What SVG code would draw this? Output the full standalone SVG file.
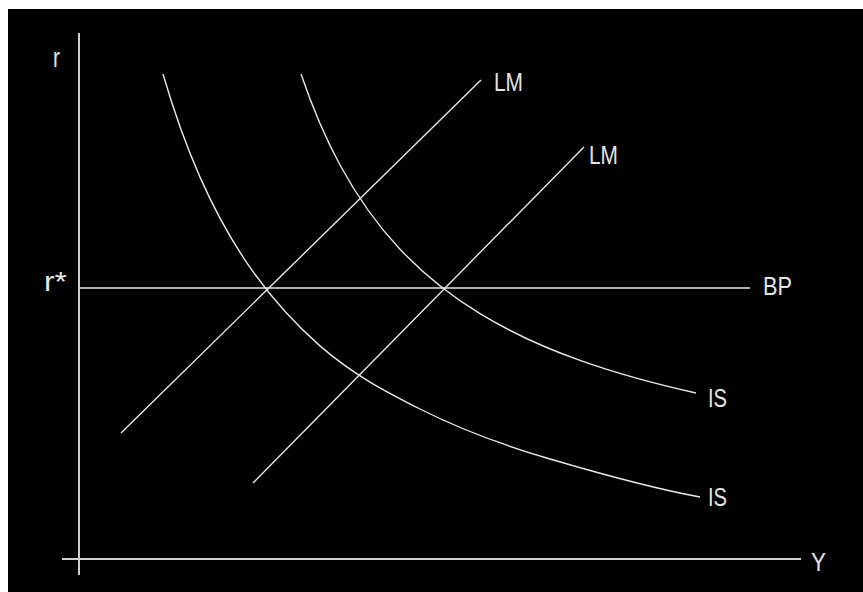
<svg xmlns="http://www.w3.org/2000/svg" width="863" height="592" viewBox="0 0 863 592">
<style>
.ax{stroke:#cfcfcf;stroke-width:2;fill:none}
.ln{stroke:#e8e8e8;stroke-width:1.4;fill:none}
.lb{font-family:"Liberation Sans",Arial,sans-serif;font-size:25px;fill:#e4e4e4}
</style>
<rect x="0" y="0" width="863" height="592" fill="#ffffff"/>
<rect x="8" y="9" width="855" height="583" fill="#000000"/>
<g id="axes">
<line class="ax" x1="79" y1="33" x2="79" y2="575"/>
<line class="ax" x1="62" y1="559" x2="801" y2="559"/>
<text class="lb" x="53" y="67" textLength="7" lengthAdjust="spacingAndGlyphs" style="font-size:28px">r</text>
<text class="lb" x="811" y="571" textLength="15" lengthAdjust="spacingAndGlyphs">Y</text>
<text class="lb" x="44" y="291" textLength="23" lengthAdjust="spacingAndGlyphs" style="font-size:28px">r*</text>
</g>
<g id="connectors">
<line class="ln" x1="80" y1="288" x2="750" y2="288"/>
<line class="ln" x1="121" y1="433" x2="481" y2="80"/>
<line class="ln" x1="253" y1="483" x2="584" y2="147"/>
<path class="ln" d="M163,74 C175.3,116.3 187.7,149.2 200,177.1 C216.7,214.8 233.3,243.4 250,267.4 C273.3,301 296.7,325.5 320,345.9 C353.3,375 386.7,392.2 420,409 C463.3,430.9 506.7,446.3 550,459 C600,473.7 650,487.9 700,497"/>
<path class="ln" d="M301,74 C314,112.2 327,140.9 340,165 C360,202 380,227.9 400,249.2 C426.7,277.6 453.3,297.4 480,313.6 C513.3,333.9 546.7,348.5 580,360.4 C618.7,374.2 657.3,384.4 696,393"/>
</g>
<g id="BP"><text class="lb" x="763" y="295" textLength="29" lengthAdjust="spacingAndGlyphs">BP</text></g>
<g id="LM1"><text class="lb" x="494" y="91" textLength="29" lengthAdjust="spacingAndGlyphs">LM</text></g>
<g id="LM2"><text class="lb" x="589" y="164" textLength="29" lengthAdjust="spacingAndGlyphs">LM</text></g>
<g id="IS2"><text class="lb" x="708" y="407" textLength="19" lengthAdjust="spacingAndGlyphs">IS</text></g>
<g id="IS1"><text class="lb" x="708" y="506" textLength="19" lengthAdjust="spacingAndGlyphs">IS</text></g>
</svg>
